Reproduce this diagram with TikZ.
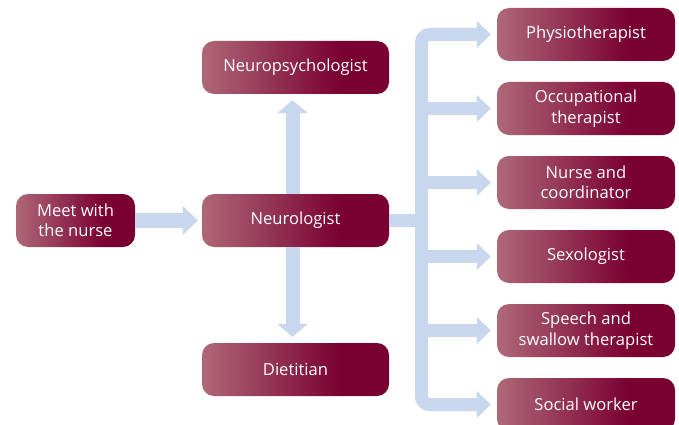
\documentclass[tikz,border=0pt]{standalone}
\usepackage{fontspec}
\setmainfont{Open Sans}
\usetikzlibrary{arrows.meta}

\definecolor{boxlight}{HTML}{AE6878}
\definecolor{boxdark}{HTML}{7A0031}
\definecolor{linkblue}{HTML}{C8D6EE}
\pgfdeclarehorizontalshading{boxshade}{100bp}{color(0bp)=(boxlight); color(25bp)=(boxlight); color(62bp)=(boxdark); color(100bp)=(boxdark)}

\begin{document}
\begin{tikzpicture}[x=1pt,y=-1pt,
  staff/.style={rounded corners=12pt, shading=boxshade, text=white, align=center,
    minimum height=53pt, inner sep=0pt, font=\fontsize{16.6}{20.5}\selectfont},
  wide/.style={staff, minimum width=187pt},
  side/.style={staff, minimum width=178pt},
  link/.style={draw=linkblue, line width=13pt},
  tip/.style={-{Triangle[width=26pt,length=14pt]}, shorten >=6pt}]
\useasboundingbox (0,0) rectangle (679,425);
\fill[white] (0,0) rectangle (679,425);
% staff
\node[staff, minimum width=119pt] (nurse) at (75.5,220.5) {Meet with\\the nurse};
\node[wide] (neuro) at (295.5,220.5) {Neurologist};
\node[wide] (psych) at (295.5,67.5) {Neuropsychologist};
\node[wide] (diet) at (295.5,369.5) {Dietitian};
\node[side] (physio) at (586,34.5) {Physiotherapist};
\node[side] (occup) at (586,108.5) {Occupational\\therapist};
\node[side] (coord) at (586,182.5) {Nurse and\\coordinator};
\node[side] (sexo) at (586,256.5) {Sexologist};
\node[side] (speech) at (586,330.5) {Speech and\\swallow therapist};
\node[side] (social) at (586,404.5) {Social worker};
% links
\coordinate (bus) at (421.5,220.5);
\draw[link, line width=15pt, -{Triangle[width=28pt,length=15pt]}, shorten >=4pt] (nurse) -- (neuro);
\draw[link, line width=14pt, -{Triangle[width=30pt,length=13pt]}, shorten >=6pt] ([xshift=-3pt]neuro.north) -- ([xshift=-3pt]psych.south);
\draw[link, line width=14pt, -{Triangle[width=30pt,length=13pt]}, shorten >=6pt] ([xshift=-3pt]neuro.south) -- ([xshift=-3pt]diet.north);
\draw[link] (neuro.east) -- (bus);
\draw[link, rounded corners=8pt, {Triangle[width=26pt,length=14pt]}-{Triangle[width=26pt,length=14pt]}, shorten <=6pt, shorten >=6pt]
  (physio.west) -- (physio.west -| bus) -- (social.west -| bus) -- (social.west);
\foreach \n in {occup,coord,sexo,speech}
  \draw[link, tip] (\n.west -| bus) -- (\n.west);
\end{tikzpicture}
\end{document}
